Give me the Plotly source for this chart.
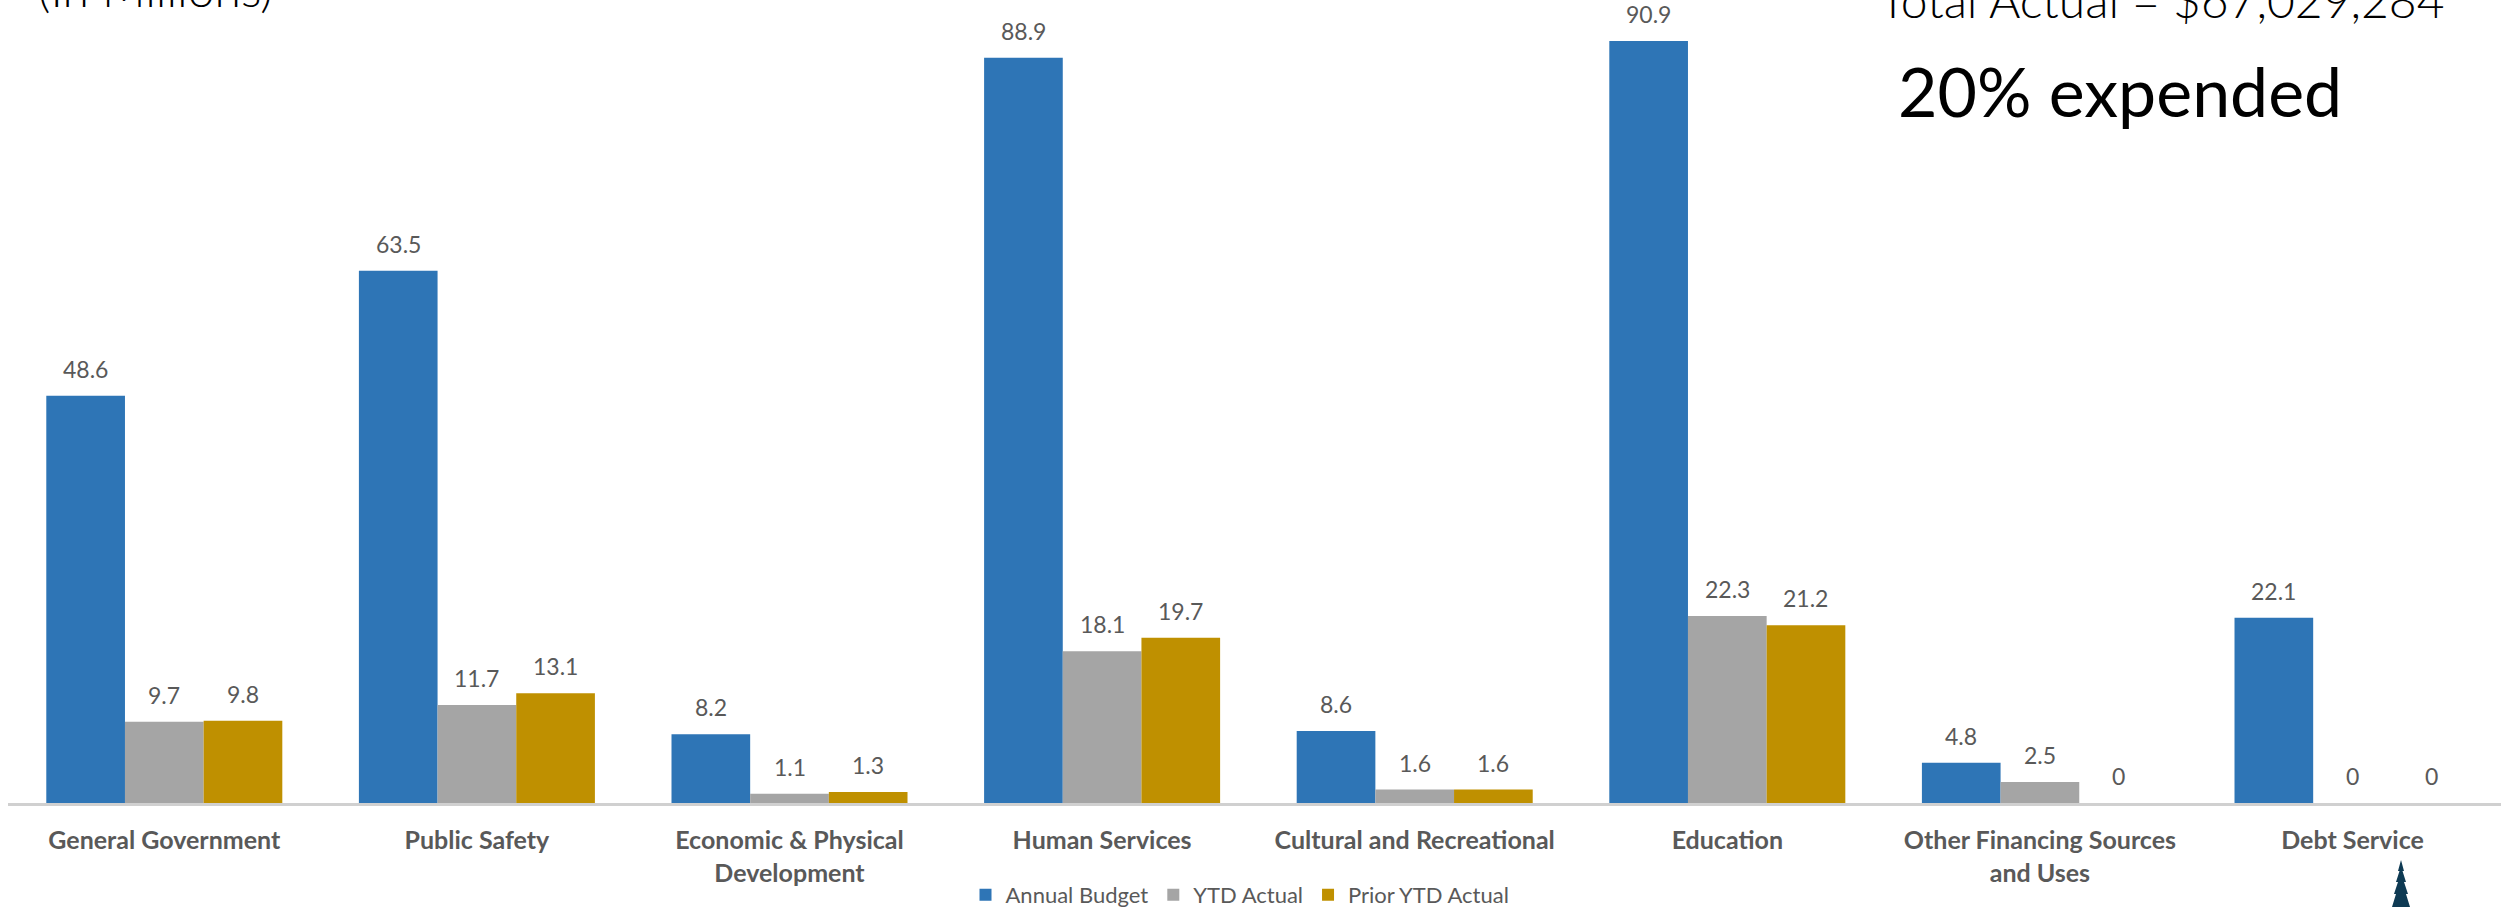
import plotly.graph_objects as go

categories = ["General Government", "Public Safety", "Economic & Physical<br>Development",
              "Human Services", "Cultural and Recreational", "Education",
              "Other Financing Sources<br>and Uses", "Debt Service"]
series_names = ["Annual Budget", "YTD Actual", "Prior YTD Actual"]
annual_budget = [48.6, 63.5, 8.2, 88.9, 8.6, 90.9, 4.8, 22.1]
ytd_actual = [9.7, 11.7, 1.1, 18.1, 1.6, 22.3, 2.5, 0]
prior_ytd_actual = [9.8, 13.1, 1.3, 19.7, 1.6, 21.2, 0, 0]
colors = ["#2E75B6", "#A5A5A5", "#BF9000"]

W, H = 2501, 907
ML, MR, MT, MB = 8, 0, 0, 104
plot_w = W - ML - MR
plot_h = H - MT - MB
x_range = [-0.5, 7.475]
y_range = [0, 95.8]
bargap = 0.245

fig = go.Figure()
idx = list(range(len(categories)))
all_series = [annual_budget, ytd_actual, prior_ytd_actual]
for name, vals, col in zip(series_names, all_series, colors):
    fig.add_trace(go.Bar(x=idx, y=vals, name=name, marker=dict(color=col, line=dict(width=0))))

# data labels
cat_px = plot_w / (x_range[1] - x_range[0])
bar_px = cat_px * (1 - bargap) / 3
annotations = []
for j, vals in enumerate(all_series):
    for i, v in enumerate(vals):
        annotations.append(dict(x=i, y=v, xref="x", yref="y", text=f"{v:g}", showarrow=False,
                                xshift=(j - 1) * bar_px, yshift=27, yanchor="middle",
                                font=dict(family="Lato", size=23, color="#595959")))

def py(pix):
    return (H - MB - pix) / plot_h

annotations += [
    dict(x=(2162 - ML) / plot_w, y=py(30), xref="paper", yref="paper", xanchor="center", yanchor="bottom",
         text="Total Actual = $67,029,284", showarrow=False,
         font=dict(family="Lato", size=48, color="#000000", weight=300)),
    dict(x=(155 - ML) / plot_w, y=py(19), xref="paper", yref="paper", xanchor="center", yanchor="bottom",
         text="(In Millions)", showarrow=False,
         font=dict(family="Lato", size=48, color="#000000", weight=300)),
    dict(x=(2120 - ML) / plot_w, y=py(90), xref="paper", yref="paper", xanchor="center", yanchor="middle",
         text="20% expended", showarrow=False,
         font=dict(family="Lato", size=68, color="#000000")),
]

# small tree logo (decoration)
tree_pts = [(2401, 860), (2398, 871), (2399.5, 871), (2396, 882), (2398, 882), (2394, 894),
            (2396, 894), (2392, 907), (2410, 907), (2406, 894), (2408, 894), (2404, 882),
            (2406, 882), (2402.5, 871), (2404, 871)]
path = "M " + " L ".join(f"{(x - ML) / plot_w:.5f},{py(y):.5f}" for x, y in tree_pts) + " Z"

fig.update_layout(
    width=W, height=H,
    margin=dict(l=ML, r=MR, t=MT, b=MB, autoexpand=False),
    paper_bgcolor="white", plot_bgcolor="white",
    barmode="group", bargap=bargap, bargroupgap=0,
    xaxis=dict(range=x_range, tickvals=idx, ticktext=[f"<b>{c}</b>" for c in categories],
               tickfont=dict(family="Lato", size=25, color="#595959"), ticklabelstandoff=13,
               showline=True, linecolor="#D0D0D0", linewidth=3, ticks="",
               showgrid=False, zeroline=False, fixedrange=True, automargin=False),
    yaxis=dict(range=y_range, visible=False, showgrid=False, zeroline=False, fixedrange=True),
    legend=dict(orientation="h", x=(1240 - ML) / plot_w, xanchor="center", y=py(895), yanchor="middle",
                font=dict(family="Lato", size=22, color="#595959"), bgcolor="rgba(0,0,0,0)",
                itemwidth=30, tracegroupgap=0),
    annotations=annotations,
    shapes=[dict(type="path", path=path, xref="paper", yref="paper",
                 fillcolor="#0E3A53", line=dict(width=0), layer="above")],
    showlegend=True,
)

fig.write_html("out.html", config={"displayModeBar": False},
               post_script="document.body.style.margin='0';document.body.style.overflow='hidden';")
